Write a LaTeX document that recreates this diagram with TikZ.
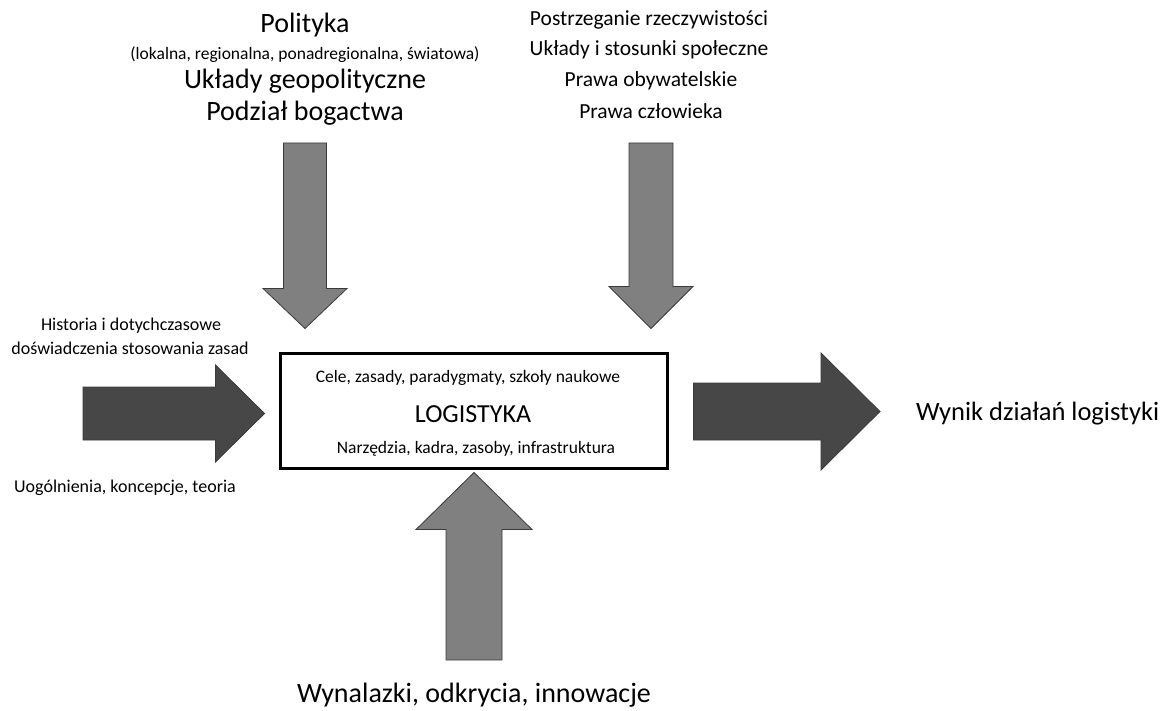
\documentclass[tikz,border=0pt]{standalone}
\usepackage{fontspec}
\setmainfont{Carlito}
\usetikzlibrary{calc}
\definecolor{arrowgray}{HTML}{808080}
\definecolor{arrowdark}{HTML}{474747}
\definecolor{arrowedge}{HTML}{3A3A3A}
\tikzset{
  note/.style={
    inner sep=0pt,
    text=black,
    font=\fontsize{17.5}{21}\selectfont
  },
  itemtext/.style={note, font=\fontsize{21.5}{26}\selectfont},
  heading/.style={note, font=\fontsize{28}{33}\selectfont},
  logbox/.style={
    draw=black,
    line width=3pt,
    fill=white,
    minimum width=387pt,
    minimum height=115pt,
    inner sep=0pt
  },
  softarrow/.style={fill=arrowgray, draw=arrowedge, line width=0.8pt},
  hardarrow/.style={fill=arrowdark, draw=arrowedge, line width=0.8pt}
}

\begin{document}
\begin{tikzpicture}[x=1pt,y=1pt]

\useasboundingbox (0,0) rectangle (1170,-711);

\node[logbox] (log) at (473.5,-410.5) {};
\node[note] (goals) at (468,-378) {Cele, zasady, paradygmaty, szkoły naukowe};
\node[note, font=\fontsize{26}{31}\selectfont] (logname) at (473,-414) {LOGISTYKA};
\node[note] (tools) at (476,-449) {Narzędzia, kadra, zasoby, infrastruktura};

% polityka
\node[heading] (pol) at (305,-25) {Polityka};
\node[note] (polscope) at (305,-55) {(lokalna, regionalna, ponadregionalna, światowa)};
\node[heading] (geo) at (305,-81) {Układy geopolityczne};
\node[heading] (wealth) at (305,-113) {Podział bogactwa};

% spoleczenstwo
\node[itemtext] (reality) at (649,-20) {Postrzeganie rzeczywistości};
\node[itemtext] (society) at (649,-50) {Układy i stosunki społeczne};
\node[itemtext] (civil) at (651,-81) {Prawa obywatelskie};
\node[itemtext] (human) at (651,-111) {Prawa człowieka};

% historia i teoria
\node[note, font=\fontsize{18}{21}\selectfont] (hist) at (131,-326) {Historia i dotychczasowe};
\node[note, font=\fontsize{18}{21}\selectfont] (practice) at (130,-348) {doświadczenia stosowania zasad};
\node[note, font=\fontsize{18}{21}\selectfont] (theory) at (125,-488) {Uogólnienia, koncepcje, teoria};

\node[note, font=\fontsize{26.5}{31}\selectfont, anchor=west] (result) at (916,-414) {Wynik działań logistyki};
\node[heading] (inv) at (474,-695) {Wynalazki, odkrycia, innowacje};

\coordinate (polTail) at (305,-143);
\coordinate (polTip) at ($(polTail |- log.north)+(0,23)$);
\coordinate (socTail) at (651,-143);
\coordinate (socTip) at ($(socTail |- log.north)+(0,23)$);
\coordinate (histTail) at (83,-413.5);
\coordinate (histTip) at ($(log.west |- histTail)+(-14,0)$);
\coordinate (outTail) at ($(log.east |- result.west)+(25,2.5)$);
\coordinate (outTip) at ($(result.west)+(-36,2.5)$);
\coordinate (invTail) at ($(inv)+(0,35)$);
\coordinate (invTip) at ($(invTail |- log.south)+(0,-3)$);

\draw[softarrow] ($(polTail)+(-21.5,0)$) -- ($(polTail)+(21.5,0)$) -- ($(polTip)+(21.5,40)$) -- ($(polTip)+(42,40)$)
  -- (polTip) -- ($(polTip)+(-42,40)$) -- ($(polTip)+(-21.5,40)$) -- cycle;
\draw[softarrow] ($(socTail)+(-22,0)$) -- ($(socTail)+(22,0)$) -- ($(socTip)+(22,42)$) -- ($(socTip)+(42,42)$)
  -- (socTip) -- ($(socTip)+(-42,42)$) -- ($(socTip)+(-22,42)$) -- cycle;
\draw[softarrow] ($(invTail)+(-28,0)$) -- ($(invTail)+(28,0)$) -- ($(invTip)+(28,-57)$) -- ($(invTip)+(58,-57)$)
  -- (invTip) -- ($(invTip)+(-58,-57)$) -- ($(invTip)+(-28,-57)$) -- cycle;
\draw[hardarrow] ($(histTail)+(0,26.5)$) -- ($(histTip)+(-49,26.5)$) -- ($(histTip)+(-49,48.5)$)
  -- (histTip) -- ($(histTip)+(-49,-48.5)$) -- ($(histTip)+(-49,-26.5)$) -- ($(histTail)+(0,-26.5)$) -- cycle;
\draw[hardarrow] ($(outTail)+(0,28.5)$) -- ($(outTip)+(-59,28.5)$) -- ($(outTip)+(-59,58.5)$)
  -- (outTip) -- ($(outTip)+(-59,-58.5)$) -- ($(outTip)+(-59,-28.5)$) -- ($(outTail)+(0,-28.5)$) -- cycle;

\end{tikzpicture}
\end{document}
